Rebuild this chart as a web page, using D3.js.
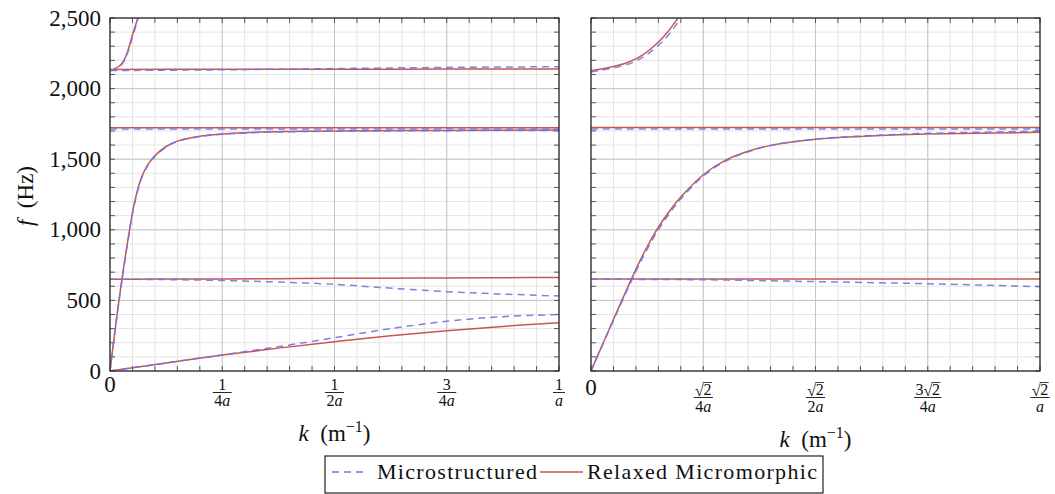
<!DOCTYPE html>
<html>
<head>
<meta charset="utf-8">
<script src="https://cdn.jsdelivr.net/npm/d3@7"></script>
<style>
  body { margin: 0; background: #fff; }
  svg { display: block; }
  text { font-family: "Liberation Serif", "Times New Roman", serif; fill: #111; }
</style>
</head>
<body>
<svg id="chart" width="1055" height="494"></svg>
<script>
// ---- data (k in units of 1/a on the left, sqrt2/a on the right; f in Hz) ----
const kTicks = [0, 0.25, 0.5, 0.75, 1];
const fTicks = [0, 500, 1000, 1500, 2000, 2500];
const leftNum = ["1", "1", "3", "1"];
const leftDen = ["4", "2", "4", ""];
const rightCoef = ["", "", "3", ""];
const rightDen = ["4", "2", "4", ""];

// left panel
const L_top_k_rm = [0, 0.01, 0.02, 0.03, 0.04, 0.05, 0.06, 0.066];
const L_top_rm   = [2130, 2140, 2158, 2195, 2270, 2380, 2480, 2550];
const L_top_k_ms = [0, 0.01, 0.02, 0.03, 0.04, 0.05, 0.06, 0.067];
const L_top_ms   = [2126, 2136, 2153, 2188, 2260, 2366, 2468, 2550];

const L_flat2_k  = [0, 0.25, 0.5, 0.75, 1];
const L_flat2_rm = [2136, 2137, 2137, 2138, 2138];
const L_flat2_ms = [2128, 2133, 2142, 2150, 2155];

const L_flat1_k  = [0, 0.5, 1];
const L_flat1_rm = [1722, 1722, 1722];
const L_flat1_ms = [1714, 1714, 1714];

const L_steep_k  = [0, 0.02, 0.04, 0.055, 0.07, 0.085, 0.1, 0.125, 0.15, 0.2, 0.25, 0.3, 0.4, 0.5, 0.75, 1];
const L_steep_rm = [0, 500, 930, 1200, 1370, 1465, 1525, 1590, 1628, 1662, 1678, 1688, 1696, 1700, 1704, 1706];
const L_steep_ms = [0, 495, 920, 1190, 1362, 1458, 1520, 1586, 1625, 1660, 1676, 1686, 1694, 1698, 1702, 1704];

const L_opt_k  = [0, 0.1, 0.25, 0.375, 0.5, 0.6, 0.75, 0.875, 1];
const L_opt_rm = [650, 651, 652, 654, 656, 657, 659, 661, 662];
const L_opt_ms = [650, 648, 641, 630, 614, 592, 562, 545, 531];

const L_ac_k  = [0, 0.125, 0.25, 0.375, 0.5, 0.625, 0.75, 0.875, 1];
const L_ac_rm = [0, 57, 113, 162, 208, 250, 285, 316, 342];
const L_ac_ms = [0, 57, 114, 172, 236, 300, 352, 385, 400];

// right panel
const R_top_k_rm = [0, 0.04, 0.08, 0.11, 0.14, 0.165, 0.185, 0.2];
const R_top_rm   = [2127, 2150, 2183, 2228, 2300, 2380, 2460, 2530];
const R_top_k_ms = [0, 0.04, 0.08, 0.11, 0.14, 0.165, 0.185, 0.2, 0.21];
const R_top_ms   = [2118, 2140, 2170, 2212, 2278, 2352, 2430, 2500, 2550];

const R_flat1_k  = [0, 0.5, 1];
const R_flat1_rm = [1724, 1724, 1724];
const R_flat1_ms = [1714, 1714, 1714];

const R_steep_k  = [0, 0.05, 0.1, 0.125, 0.15, 0.175, 0.2, 0.25, 0.3, 0.35, 0.4, 0.5, 0.6, 0.75, 1];
const R_steep_rm = [0, 365, 720, 880, 1018, 1133, 1232, 1390, 1493, 1556, 1598, 1641, 1661, 1678, 1690];
const R_steep_ms = [0, 358, 705, 862, 1000, 1117, 1218, 1380, 1487, 1553, 1597, 1642, 1664, 1683, 1698];

const R_opt_k  = [0, 0.25, 0.5, 0.75, 1];
const R_opt_rm = [651, 651, 651, 651, 651];
const R_opt_ms = [650, 646, 633, 618, 597];

// ---- layout ----
const svg = d3.select('#chart');
const plotTop = 18, plotBottom = 371;
const panels = [
  {x0: 110, x1: 559, id: 'left'},
  {x0: 591, x1: 1040, id: 'right'}
];
const colorMs = '#7474dc';
const colorRm = '#c45656';

const y = d3.scaleLinear().domain([0, 2500]).range([plotBottom, plotTop]);

const zip = (ks, fs) => ks.map((k, i) => [k, fs[i]]);

const leftSeries = [
  {ms: zip(L_top_k_ms, L_top_ms), rm: zip(L_top_k_rm, L_top_rm)},
  {ms: zip(L_flat2_k, L_flat2_ms), rm: zip(L_flat2_k, L_flat2_rm)},
  {ms: zip(L_flat1_k, L_flat1_ms), rm: zip(L_flat1_k, L_flat1_rm)},
  {ms: zip(L_steep_k, L_steep_ms), rm: zip(L_steep_k, L_steep_rm)},
  {ms: zip(L_opt_k, L_opt_ms), rm: zip(L_opt_k, L_opt_rm)},
  {ms: zip(L_ac_k, L_ac_ms), rm: zip(L_ac_k, L_ac_rm)}
];
const rightSeries = [
  {ms: zip(R_top_k_ms, R_top_ms), rm: zip(R_top_k_rm, R_top_rm)},
  {ms: zip(R_flat1_k, R_flat1_ms), rm: zip(R_flat1_k, R_flat1_rm)},
  {ms: zip(R_steep_k, R_steep_ms), rm: zip(R_steep_k, R_steep_rm)},
  {ms: zip(R_opt_k, R_opt_ms), rm: zip(R_opt_k, R_opt_rm)}
];

const defs = svg.append('defs');

panels.forEach((p, pi) => {
  const x = d3.scaleLinear().domain([0, 1]).range([p.x0, p.x1]);
  const g = svg.append('g');

  defs.append('clipPath').attr('id', 'clip-' + p.id)
    .append('rect').attr('x', p.x0).attr('y', plotTop)
    .attr('width', p.x1 - p.x0).attr('height', plotBottom - plotTop);

  const xMinor = d3.range(0, 1.0001, 0.05);
  const yMinor = d3.range(0, 2501, 100);

  // minor grid
  g.selectAll('.vminor').data(xMinor).enter().append('line')
    .attr('x1', d => x(d)).attr('x2', d => x(d)).attr('y1', plotTop).attr('y2', plotBottom)
    .attr('stroke', '#e4e4e4').attr('stroke-width', 1);
  g.selectAll('.hminor').data(yMinor).enter().append('line')
    .attr('y1', d => y(d)).attr('y2', d => y(d)).attr('x1', p.x0).attr('x2', p.x1)
    .attr('stroke', '#e4e4e4').attr('stroke-width', 1);
  // major grid
  g.selectAll('.vmajor').data(kTicks).enter().append('line')
    .attr('x1', d => x(d)).attr('x2', d => x(d)).attr('y1', plotTop).attr('y2', plotBottom)
    .attr('stroke', '#c6c6c6').attr('stroke-width', 1);
  g.selectAll('.hmajor').data(fTicks).enter().append('line')
    .attr('y1', d => y(d)).attr('y2', d => y(d)).attr('x1', p.x0).attr('x2', p.x1)
    .attr('stroke', '#c6c6c6').attr('stroke-width', 1);

  // tick marks (inward on all four sides)
  const tk = '#555';
  xMinor.forEach(d => {
    const len = 5;
    g.append('line').attr('x1', x(d)).attr('x2', x(d)).attr('y1', plotBottom).attr('y2', plotBottom - len).attr('stroke', tk);
    g.append('line').attr('x1', x(d)).attr('x2', x(d)).attr('y1', plotTop).attr('y2', plotTop + len).attr('stroke', tk);
  });
  yMinor.forEach(d => {
    const len = 5;
    g.append('line').attr('y1', y(d)).attr('y2', y(d)).attr('x1', p.x0).attr('x2', p.x0 + len).attr('stroke', tk);
    g.append('line').attr('y1', y(d)).attr('y2', y(d)).attr('x1', p.x1).attr('x2', p.x1 - len).attr('stroke', tk);
  });

  // curves
  const line = d3.line().x(d => x(d[0])).y(d => y(d[1])).curve(d3.curveCatmullRom.alpha(0.5));
  const series = pi === 0 ? leftSeries : rightSeries;
  const cg = g.append('g').attr('clip-path', 'url(#clip-' + p.id + ')');
  series.forEach(s => {
    cg.append('path').attr('d', line(s.rm)).attr('fill', 'none')
      .attr('stroke', colorRm).attr('stroke-width', 1.5);
  });
  series.forEach(s => {
    cg.append('path').attr('d', line(s.ms)).attr('fill', 'none')
      .attr('stroke', colorMs).attr('stroke-width', 1.5)
      .attr('stroke-dasharray', '7,5').attr('opacity', 0.9);
  });

  // frame
  g.append('rect').attr('x', p.x0).attr('y', plotTop)
    .attr('width', p.x1 - p.x0).attr('height', plotBottom - plotTop)
    .attr('fill', 'none').attr('stroke', '#222').attr('stroke-width', 1.2);

  // x tick labels
  g.append('text').attr('x', x(0)).attr('y', pi === 0 ? 392 : 395)
    .attr('text-anchor', 'middle').style('font-size', '23px').text('0');

  kTicks.slice(1).forEach((d, i) => {
    const cx = x(d);
    const lg = g.append('g');
    if (pi === 0) {
      lg.append('text').attr('x', cx).attr('y', 390).attr('text-anchor', 'middle')
        .style('font-size', '16px').text(leftNum[i]);
      const den = lg.append('text').attr('x', cx).attr('y', 406).attr('text-anchor', 'middle')
        .style('font-size', '16px');
      den.append('tspan').text(leftDen[i]);
      den.append('tspan').style('font-style', 'italic').text('a');
      const w = Math.max(den.node().getComputedTextLength(), 9) + 3;
      lg.append('line').attr('x1', cx - w / 2).attr('x2', cx + w / 2)
        .attr('y1', 392.5).attr('y2', 392.5).attr('stroke', '#111').attr('stroke-width', 0.9);
    } else {
      // numerator: coef + sqrt(2)
      const ng = lg.append('g');
      let cur = 0;
      if (rightCoef[i]) {
        const t = ng.append('text').attr('x', cur).attr('y', 0).style('font-size', '16px').text(rightCoef[i]);
        cur += t.node().getComputedTextLength();
      }
      const rad = ng.append('text').attr('x', cur).attr('y', 1).style('font-size', '16px').text('\u221A');
      cur += rad.node().getComputedTextLength() - 0.5;
      const two = ng.append('text').attr('x', cur).attr('y', 0).style('font-size', '16px').text('2');
      const tw = two.node().getComputedTextLength();
      ng.append('line').attr('x1', cur - 0.5).attr('x2', cur + tw + 0.5)
        .attr('y1', -12.5).attr('y2', -12.5).attr('stroke', '#111').attr('stroke-width', 0.8);
      cur += tw;
      ng.attr('transform', `translate(${cx - cur / 2},395)`);

      const den = lg.append('text').attr('x', cx).attr('y', 412).attr('text-anchor', 'middle')
        .style('font-size', '16px');
      den.append('tspan').text(rightDen[i]);
      den.append('tspan').style('font-style', 'italic').text('a');
      const w = Math.max(cur, den.node().getComputedTextLength()) + 3;
      lg.append('line').attr('x1', cx - w / 2).attr('x2', cx + w / 2)
        .attr('y1', 397.5).attr('y2', 397.5).attr('stroke', '#111').attr('stroke-width', 0.9);
    }
  });

  // x axis title
  const xt = g.append('text').attr('x', (p.x0 + p.x1) / 2).attr('y', pi === 0 ? 441 : 447)
    .attr('text-anchor', 'middle').style('font-size', '23px');
  xt.append('tspan').style('font-style', 'italic').text('k');
  xt.append('tspan').text('\u2002(m');
  xt.append('tspan').attr('dy', -9).style('font-size', '16px').text('\u22121');
  xt.append('tspan').attr('dy', 9).text(')');

  // y tick labels only on the left panel
  if (pi === 0) {
    g.selectAll('.ylab').data(fTicks).enter().append('text')
      .attr('x', p.x0 - 9).attr('y', d => y(d) + 7.5)
      .attr('text-anchor', 'end').style('font-size', '23px')
      .text(d => d3.format(',')(d));
  }
});

// y axis title
const yt = svg.append('text').attr('transform', 'translate(33,196) rotate(-90)')
  .attr('text-anchor', 'middle').style('font-size', '23px');
yt.append('tspan').style('font-style', 'italic').text('f');
yt.append('tspan').text('\u2002(Hz)');

// legend
const lgd = svg.append('g');
lgd.append('rect').attr('x', 325).attr('y', 456).attr('width', 498).attr('height', 37)
  .attr('fill', '#fff').attr('stroke', '#222').attr('stroke-width', 1.2);
lgd.append('line').attr('x1', 332).attr('x2', 367).attr('y1', 472).attr('y2', 472)
  .attr('stroke', colorMs).attr('stroke-width', 1.5).attr('stroke-dasharray', '7,5');
lgd.append('text').attr('x', 377).attr('y', 479).style('font-size', '22px')
  .attr('textLength', 160).text('Microstructured');
lgd.append('line').attr('x1', 540).attr('x2', 583).attr('y1', 472).attr('y2', 472)
  .attr('stroke', colorRm).attr('stroke-width', 1.5);
lgd.append('text').attr('x', 587).attr('y', 479).style('font-size', '22px')
  .attr('textLength', 230).text('Relaxed Micromorphic');
</script>
</body>
</html>
